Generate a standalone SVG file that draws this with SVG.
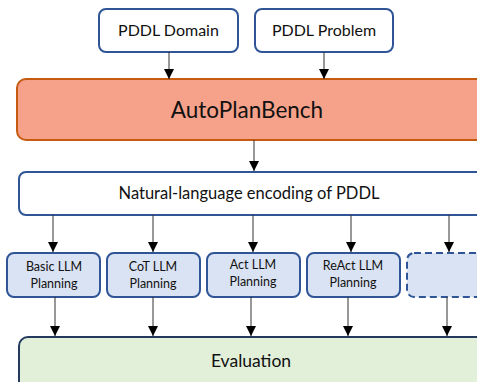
<svg xmlns="http://www.w3.org/2000/svg" width="477" height="382" viewBox="0 0 477 382">
<defs>
<marker id="ah" viewBox="0 0 10 10" refX="10" refY="5" markerWidth="10" markerHeight="11" markerUnits="userSpaceOnUse" orient="auto">
<path d="M0,0 L10,5 L0,10 z" fill="#000"/>
</marker>
<style>
text{font-family:Lato,"Open Sans",sans-serif;fill:#111;text-anchor:middle}
.in{fill:#fff;stroke:#2F5597;stroke-width:2}
.apb{fill:#F6A189;stroke:#C55A11;stroke-width:2}
.m{fill:#DAE3F3;stroke:#2F5597;stroke-width:2}
.d{fill:#DAE3F3;stroke:#2F5597;stroke-width:2;stroke-dasharray:7,4}
.ev{fill:#E2EFD9;stroke:#243B5E;stroke-width:2}
.c line{stroke:#333;stroke-width:1;marker-end:url(#ah)}
.s{font-size:12.5px}
</style>
</defs>
<g id="pddl-domain"><rect class="in" x="99" y="9" width="139" height="43" rx="7"/><text x="168.5" y="36" font-size="16">PDDL Domain</text></g>
<g id="pddl-problem"><rect class="in" x="255" y="9" width="138" height="43" rx="7"/><text x="324" y="36" font-size="16">PDDL Problem</text></g>
<g id="autoplanbench"><rect class="apb" x="17" y="79" width="470" height="61" rx="9"/><text x="247" y="118" font-size="22.5">AutoPlanBench</text></g>
<g id="nl-encoding"><rect class="in" x="19" y="172" width="470" height="43" rx="7"/><text x="249" y="199" font-size="16.5">Natural-language encoding of PDDL</text></g>
<g id="basic"><rect class="m" x="7" y="253" width="93" height="44" rx="7"/><text class="s" x="54" y="271">Basic LLM</text><text class="s" x="54" y="288">Planning</text></g>
<g id="cot"><rect class="m" x="107" y="253" width="93" height="44" rx="7"/><text class="s" x="153" y="271">CoT LLM</text><text class="s" x="153" y="288">Planning</text></g>
<g id="act"><rect class="m" x="207" y="253" width="93" height="44" rx="7"/><text class="s" x="253" y="269">Act LLM</text><text class="s" x="253" y="286">Planning</text></g>
<g id="react"><rect class="m" x="307" y="253" width="93" height="44" rx="7"/><text class="s" x="353" y="270">ReAct LLM</text><text class="s" x="353" y="287">Planning</text></g>
<g id="more"><rect class="d" x="407" y="253" width="93" height="44" rx="7"/></g>
<g id="evaluation"><rect class="ev" x="19" y="337" width="470" height="60" rx="9"/><text x="251" y="367" font-size="17.5">Evaluation</text></g>
<g class="c" id="connectors">
<line x1="169" y1="52" x2="169" y2="79"/>
<line x1="324" y1="52" x2="324" y2="79"/>
<line x1="254" y1="140" x2="254" y2="171"/>
<line x1="53" y1="215" x2="53" y2="252"/>
<line x1="153" y1="215" x2="153" y2="252"/>
<line x1="253" y1="215" x2="253" y2="252"/>
<line x1="351" y1="215" x2="351" y2="252"/>
<line x1="449" y1="215" x2="449" y2="252"/>
<line x1="55" y1="297" x2="55" y2="336"/>
<line x1="153" y1="297" x2="153" y2="336"/>
<line x1="251" y1="297" x2="251" y2="336"/>
<line x1="348" y1="297" x2="348" y2="336"/>
<line x1="447" y1="297" x2="447" y2="336"/>
</g>
</svg>
